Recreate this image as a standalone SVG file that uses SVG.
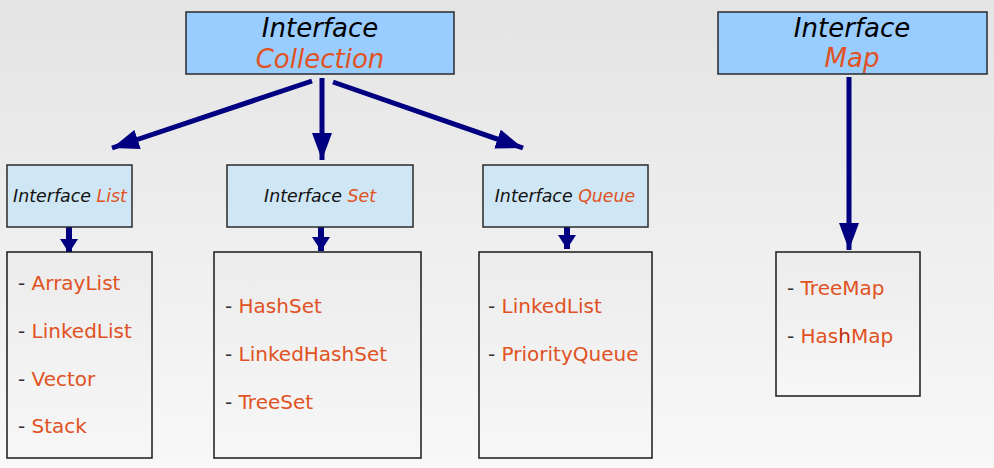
<svg xmlns="http://www.w3.org/2000/svg" width="994" height="468" viewBox="0 0 994 468">
<defs>
<linearGradient id="bg" x1="0" y1="0" x2="0" y2="1"><stop offset="0" stop-color="#e4e4e4"/><stop offset="1" stop-color="#f8f8f8"/></linearGradient>
<linearGradient id="box" x1="0" y1="0" x2="0" y2="1"><stop offset="0" stop-color="#ececec"/><stop offset="1" stop-color="#f7f7f7"/></linearGradient>
<marker id="big" viewBox="0 0 27 20" refX="27" refY="10" markerWidth="27" markerHeight="20" markerUnits="userSpaceOnUse" orient="auto"><path d="M0,0 L27,10 L0,20 z" fill="#000080"/></marker>
<marker id="small" viewBox="0 0 14 18" refX="14" refY="9" markerWidth="14" markerHeight="18" markerUnits="userSpaceOnUse" orient="auto"><path d="M0,0 L14,9 L0,18 z" fill="#000080"/></marker>
</defs>
<style>
text{font-family:"DejaVu Sans","Verdana",sans-serif}
.top{fill:#99ccff;stroke:#2a2a2a;stroke-width:1.5}
.mid{fill:#cfe6f4;stroke:#2a2a2a;stroke-width:1.5}
.lst{fill:url(#box);stroke:#1a1a1a;stroke-width:1.5}
.t1{font-size:26px;font-style:italic;fill:#000;text-anchor:middle}
.t2{font-size:17.4px;font-style:italic;fill:#111;text-anchor:middle}
.or{fill:#e05223}
.it{font-size:20px;fill:#333}
.big{stroke:#000080;stroke-width:5;fill:none;marker-end:url(#big)}
.sm{stroke:#000080;stroke-width:6;fill:none;marker-end:url(#small)}
</style>
<rect x="0" y="0" width="994" height="468" fill="url(#bg)"/>
<g id="connectors">
<line class="big" x1="312" y1="81" x2="112" y2="148"/>
<line class="big" x1="322" y1="78" x2="322" y2="160"/>
<line class="big" x1="333" y1="82" x2="523" y2="148"/>
<line class="big" x1="849" y1="77" x2="849" y2="250"/>
<line class="sm" x1="69" y1="227" x2="69" y2="253"/>
<line class="sm" x1="321" y1="226" x2="321" y2="251"/>
<line class="sm" x1="567" y1="222" x2="567" y2="249"/>
</g>
<g id="collection">
<rect class="top" x="186" y="12" width="268" height="62"/>
<text class="t1" x="320" y="37">Interface</text>
<text class="t1 or" x="320" y="68">Collection</text>
</g>
<g id="map">
<rect class="top" x="718" y="12" width="269" height="62"/>
<text class="t1" x="852" y="37">Interface</text>
<text class="t1 or" x="852" y="67">Map</text>
</g>
<g id="list">
<rect class="mid" x="7" y="165" width="125" height="62"/>
<text class="t2" x="70" y="202">Interface <tspan class="or">List</tspan></text>
</g>
<g id="set">
<rect class="mid" x="227" y="165" width="186" height="62"/>
<text class="t2" x="320" y="202">Interface <tspan class="or">Set</tspan></text>
</g>
<g id="queue">
<rect class="mid" x="483" y="165" width="165" height="62"/>
<text class="t2" x="565" y="202">Interface <tspan class="or">Queue</tspan></text>
</g>
<g id="list-impl">
<rect class="lst" x="7" y="252" width="145" height="206"/>
<text class="it" x="18" y="290">- <tspan class="or">ArrayList</tspan></text>
<text class="it" x="18" y="338">- <tspan class="or">LinkedList</tspan></text>
<text class="it" x="18" y="386">- <tspan class="or">Vector</tspan></text>
<text class="it" x="18" y="433">- <tspan class="or">Stack</tspan></text>
</g>
<g id="set-impl">
<rect class="lst" x="214" y="252" width="207" height="206"/>
<text class="it" x="225" y="313">- <tspan class="or">HashSet</tspan></text>
<text class="it" x="225" y="361">- <tspan class="or">LinkedHashSet</tspan></text>
<text class="it" x="225" y="409">- <tspan class="or">TreeSet</tspan></text>
</g>
<g id="queue-impl">
<rect class="lst" x="479" y="252" width="173" height="206"/>
<text class="it" x="488" y="313">- <tspan class="or">LinkedList</tspan></text>
<text class="it" x="488" y="361">- <tspan class="or">PriorityQueue</tspan></text>
</g>
<g id="map-impl">
<rect class="lst" x="776" y="252" width="144" height="144"/>
<text class="it" x="787" y="295">- <tspan class="or">TreeMap</tspan></text>
<text class="it" x="787" y="343">- <tspan class="or">Has<tspan fill="#c42a00">h</tspan>Map</tspan></text>
</g>
</svg>
